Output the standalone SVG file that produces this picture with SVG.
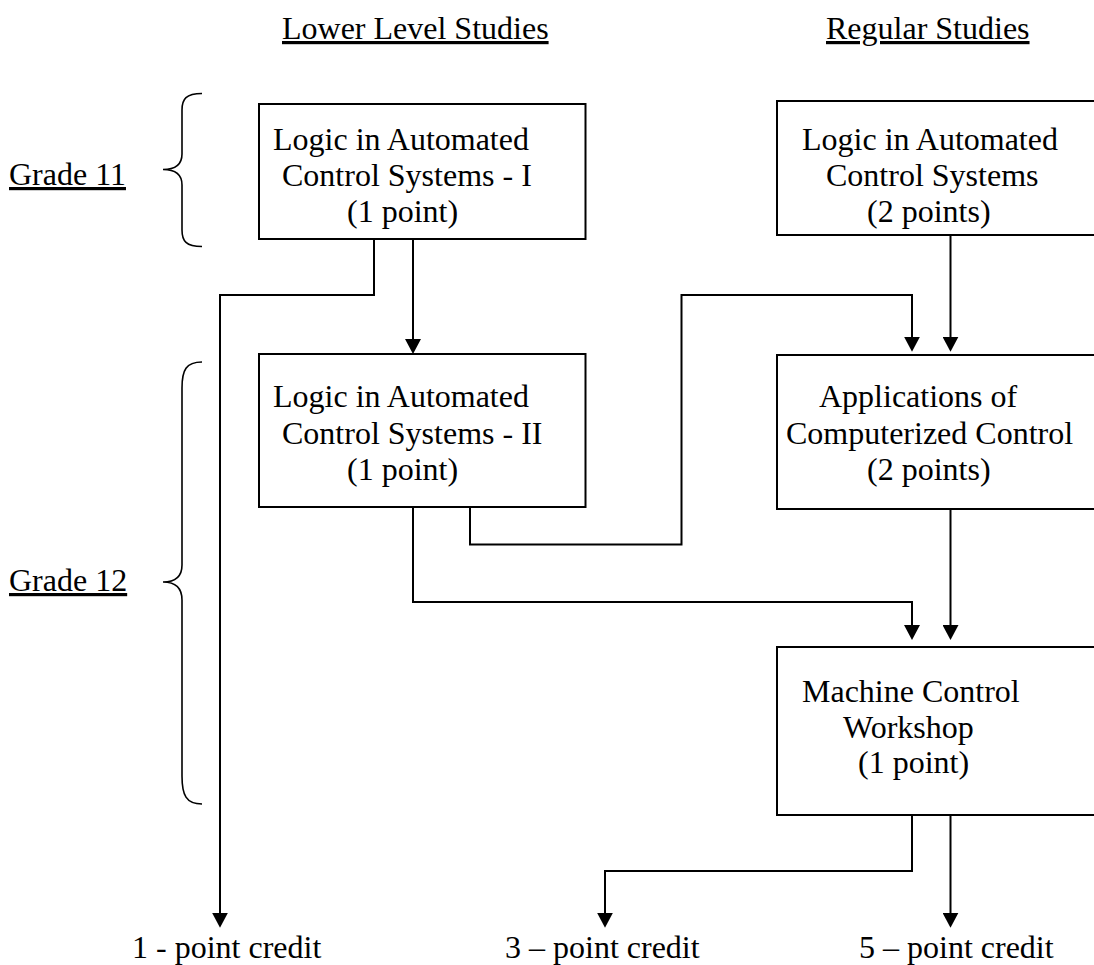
<svg xmlns="http://www.w3.org/2000/svg" width="1094" height="965" viewBox="0 0 1094 965">
<style>
text{font-family:"Liberation Serif","Times New Roman",serif;font-size:32px;fill:#000}
.u{text-decoration:underline}
.box{fill:#fff;stroke:#000;stroke-width:2}
.c{fill:none;stroke:#000;stroke-width:2}
.br{fill:none;stroke:#000;stroke-width:1.6}
</style>
<defs>
<marker id="ah" markerUnits="userSpaceOnUse" viewBox="0 0 15 16" refX="10" refY="8" markerWidth="15" markerHeight="16" orient="auto">
<path d="M0,0 L15,8 L0,16 z" fill="#000"/>
</marker>
</defs>
<rect width="1094" height="965" fill="#fff"/>
<g id="headers">
<text x="282" y="39" class="u">Lower Level Studies</text>
<text x="826" y="39" class="u">Regular Studies</text>
</g>
<g id="grade11">
<text x="9" y="185" class="u">Grade 11</text>
<path class="br" d="M202,93.5 C186,93.5 182,99 182,110 V154 C182,164 176,169.5 163,169.5 C176,169.5 182,175 182,185 V230 C182,241 186,246.5 202,246.5"/>
</g>
<g id="grade12">
<text x="9" y="591" class="u">Grade 12</text>
<path class="br" d="M202,362 C186,362 182,370 182,388 V565 C182,576 176,582 163,582 C176,582 182,588 182,600 V776 C182,795 186,804 202,804"/>
</g>
<g id="connectors">
<path class="c" d="M374,239 V295 H220 V922.7" marker-end="url(#ah)"/>
<path class="c" d="M413,239 V349" marker-end="url(#ah)"/>
<path class="c" d="M950.5,235 V346.7" marker-end="url(#ah)"/>
<path class="c" d="M470,507 V544.5 H681.5 V295 H912 V346.7" marker-end="url(#ah)"/>
<path class="c" d="M413,507 V602 H912 V635" marker-end="url(#ah)"/>
<path class="c" d="M950.5,509 V635" marker-end="url(#ah)"/>
<path class="c" d="M912,815 V871 H605 V922.7" marker-end="url(#ah)"/>
<path class="c" d="M950.5,815 V922.7" marker-end="url(#ah)"/>
</g>
<g id="node-lacs1">
<rect class="box" x="259" y="104" width="326.5" height="135"/>
<text x="273" y="150">Logic in Automated</text>
<text x="282" y="186">Control Systems - I</text>
<text x="347" y="222">(1 point)</text>
</g>
<g id="node-lacs">
<rect class="box" x="777" y="101" width="320" height="134"/>
<text x="802" y="150">Logic in Automated</text>
<text x="826" y="186">Control Systems</text>
<text x="867" y="222">(2 points)</text>
</g>
<g id="node-lacs2">
<rect class="box" x="259" y="354" width="326.5" height="153"/>
<text x="273" y="407">Logic in Automated</text>
<text x="282" y="444">Control Systems - II</text>
<text x="347" y="480">(1 point)</text>
</g>
<g id="node-acc">
<rect class="box" x="777" y="355" width="320" height="154"/>
<text x="819" y="407">Applications of</text>
<text x="786" y="444">Computerized Control</text>
<text x="867" y="480">(2 points)</text>
</g>
<g id="node-mcw">
<rect class="box" x="777" y="647" width="320" height="168"/>
<text x="802" y="702">Machine Control</text>
<text x="843" y="738">Workshop</text>
<text x="858" y="773">(1 point)</text>
</g>
<g id="credits">
<text x="132" y="958">1 - point credit</text>
<text x="505" y="958">3 – point credit</text>
<text x="859" y="958">5 – point credit</text>
</g>
</svg>
